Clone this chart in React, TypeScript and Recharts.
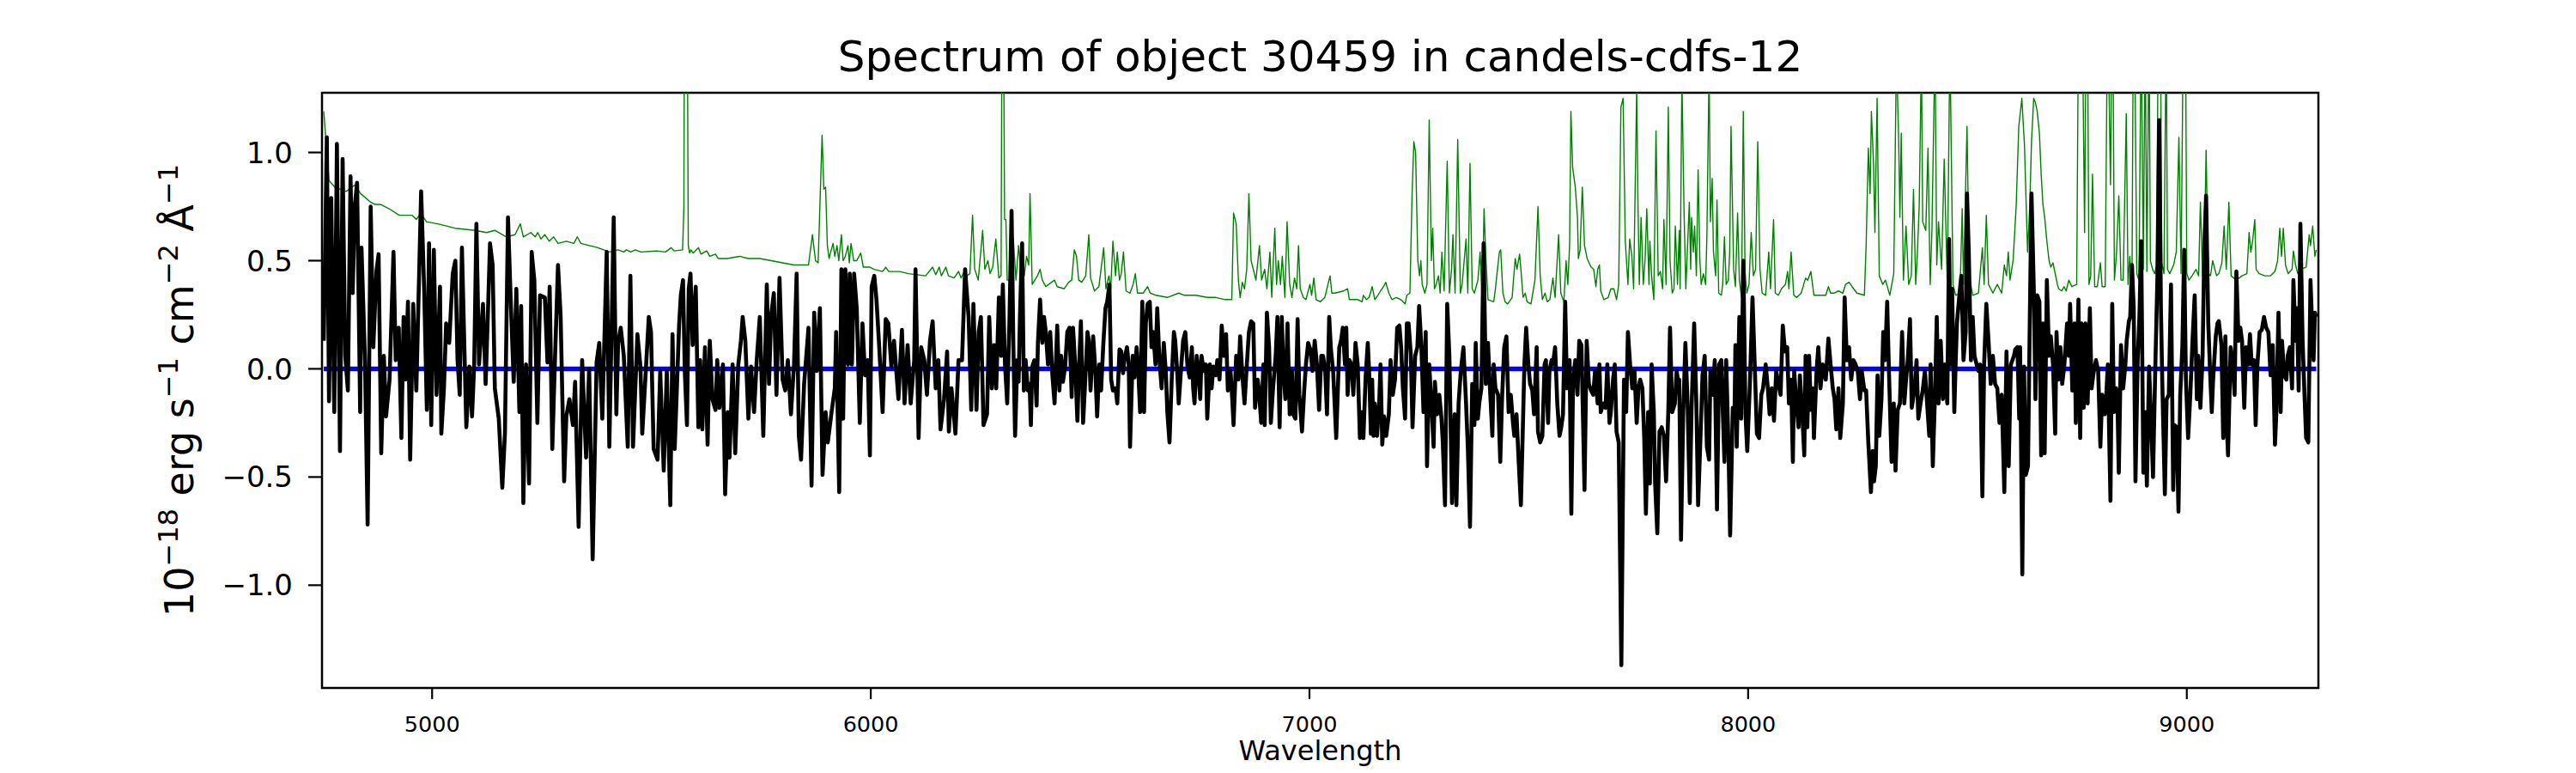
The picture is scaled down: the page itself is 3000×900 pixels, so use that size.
import React from "react";
import { LineChart, Line, XAxis, YAxis, ReferenceArea } from "recharts";

// ---- Data (wavelength in Å, flux in 1e-18 erg/s/cm2/Å) ----
const xTicks = [5000, 6000, 7000, 8000, 9000];
const yTicks = [-1.0, -0.5, 0.0, 0.5, 1.0];
const xDomain = [4749, 9300];
const yDomain = [-1.475, 1.276];

const fluxSeg1 = [
  [4753, 0.13], [4760, 1.07], [4765, -0.15], [4770, 0.79], [4777, -0.2], [4783, 1.04], [4790, -0.38], [4796, 0.97],
  [4802, 0.06], [4808, -0.1], [4814, 0.89], [4819, 0.35], [4824, 0.76], [4829, 0.86], [4836, -0.2], [4839, 0.56],
  [4847, 0.04], [4853, -0.72], [4860, 0.75], [4866, 0.1], [4873, 0.45], [4878, 0.53], [4884, -0.39], [4890, 0.06],
  [4895, -0.22], [4903, -0.05], [4912, 0.54], [4917, 0.04], [4924, 0.19], [4930, -0.32], [4935, 0.24], [4939, -0.05],
  [4945, 0.31], [4950, -0.42], [4957, 0.3], [4964, -0.1], [4975, 0.82], [4982, 0.36], [4988, -0.19], [4993, 0.58],
  [4998, -0.26], [5004, 0.55], [5010, -0.12], [5018, 0.38], [5021, -0.3], [5027, -0.09], [5032, 0.21], [5039, 0.12],
  [5047, 0.44], [5053, 0.5], [5058, 0.04], [5063, -0.12], [5068, 0.56], [5078, -0.27], [5085, 0.01], [5091, -0.22],
  [5096, 0.02], [5101, 0.67], [5107, 0.02], [5116, 0.3], [5122, -0.07], [5127, 0.24], [5132, 0.58], [5138, 0.48],
  [5143, -0.09], [5152, -0.23], [5160, -0.55], [5166, -0.3], [5173, 0.7], [5179, 0.33], [5186, -0.06], [5192, 0.37],
  [5199, -0.2], [5203, 0.29], [5208, -0.62], [5214, 0.02], [5221, -0.53], [5227, 0.54], [5233, 0.41], [5240, -0.25],
  [5246, 0.34], [5257, 0.33], [5263, 0.03], [5268, 0.38], [5274, -0.37], [5280, 0.04], [5287, 0.48], [5293, 0.24],
  [5301, -0.52], [5306, -0.22], [5313, -0.14], [5321, -0.26], [5326, -0.06], [5334, -0.73], [5342, 0.04], [5351, -0.41],
  [5358, 0.0], [5366, -0.88], [5375, 0.03], [5381, 0.12], [5388, -0.23], [5398, 0.54], [5404, -0.36], [5414, 0.7],
  [5420, -0.21], [5424, 0.12], [5430, 0.19], [5437, 0.06], [5446, -0.36], [5452, 0.43], [5458, -0.36], [5468, 0.16],
  [5475, 0.01], [5479, -0.3], [5486, -0.05], [5494, 0.24], [5499, 0.17], [5505, -0.37], [5514, -0.42],
];

const fluxSeg2 = [
  [5520, -0.01], [5528, -0.47], [5535, -0.01], [5543, -0.63], [5548, 0.16], [5553, -0.37], [5558, -0.09], [5563, 0.2],
  [5567, 0.34], [5572, 0.41], [5576, -0.01], [5581, -0.26], [5585, 0.37], [5589, 0.44], [5594, 0.11], [5597, 0.24],
  [5601, 0.38], [5607, -0.27], [5611, 0.04], [5616, -0.28], [5622, 0.1], [5628, -0.35], [5633, 0.13], [5639, -0.14],
  [5646, -0.19], [5650, 0.04], [5655, -0.18], [5663, 0.02], [5668, -0.58], [5674, -0.2], [5678, -0.41], [5685, 0.02],
  [5691, -0.39], [5698, 0.02], [5704, 0.13], [5708, 0.24], [5714, 0.13], [5721, -0.23], [5727, 0.01], [5734, -0.2],
  [5740, 0.04], [5747, 0.24], [5755, -0.31], [5763, 0.39], [5768, -0.07], [5773, 0.25], [5779, 0.35], [5785, -0.12],
  [5792, 0.42], [5799, -0.05], [5805, -0.1], [5811, 0.04], [5818, -0.21], [5825, 0.02], [5831, 0.44], [5836, -0.31],
  [5841, -0.42], [5848, -0.07], [5858, 0.19], [5865, -0.54], [5871, 0.26], [5877, -0.01], [5884, 0.28], [5890, -0.49],
  [5897, -0.2], [5902, -0.34], [5910, -0.21], [5918, -0.09], [5921, 0.17], [5928, -0.57], [5933, 0.46], [5937, -0.23],
  [5942, 0.46], [5948, 0.02], [5952, 0.44], [5957, 0.02], [5962, 0.44], [5968, 0.28], [5975, -0.25], [5981, 0.21],
  [5987, -0.03], [5993, 0.04], [5998, -0.4], [6002, 0.38], [6008, 0.43], [6013, 0.32], [6019, 0.11], [6027, -0.2],
  [6034, 0.23], [6040, 0.21], [6047, 0.01], [6053, 0.13], [6063, -0.14], [6071, 0.18], [6077, -0.16], [6084, 0.11],
  [6091, -0.16], [6099, 0.04], [6102, 0.46], [6109, -0.32], [6115, 0.1], [6122, 0.04], [6128, -0.12], [6135, 0.13],
  [6141, 0.22], [6148, -0.09], [6154, 0.04], [6159, -0.28], [6167, -0.14], [6174, 0.08], [6178, -0.29], [6184, -0.09],
  [6193, -0.3], [6200, 0.04], [6208, 0.04], [6215, 0.46], [6223, 0.24], [6229, -0.19], [6234, 0.3], [6241, -0.19],
  [6246, 0.17], [6251, 0.24], [6257, -0.26], [6265, -0.21], [6270, 0.24], [6276, -0.09], [6281, 0.11],
];

const fluxSeg3 = [
  [6286, -0.09], [6292, 0.33], [6297, 0.06], [6301, 0.39], [6306, 0.02], [6311, -0.16], [6316, 0.21], [6321, 0.73],
  [6325, 0.11], [6329, -0.31], [6334, 0.04], [6337, -0.06], [6340, 0.24], [6345, 0.58], [6349, -0.1], [6353, 0.04],
  [6358, -0.1], [6362, -0.07], [6365, -0.26], [6368, 0.01], [6373, 0.04], [6378, -0.17], [6381, 0.12], [6386, 0.32],
  [6391, 0.12], [6395, 0.24], [6399, 0.17], [6404, 0.02], [6409, 0.17], [6414, -0.03], [6419, -0.16], [6422, 0.02],
  [6425, 0.2], [6430, -0.1], [6434, 0.06], [6438, -0.06], [6443, 0.01], [6448, 0.17], [6453, 0.19], [6458, -0.13],
  [6461, 0.19], [6466, 0.02], [6471, -0.24], [6475, 0.02], [6479, 0.22], [6484, -0.25], [6488, -0.09], [6494, 0.17],
  [6497, 0.13], [6501, -0.1], [6507, 0.15], [6512, -0.01], [6516, -0.22], [6521, 0.02], [6525, -0.1], [6530, 0.11],
  [6535, 0.28], [6539, 0.31], [6544, 0.39], [6548, -0.05], [6552, -0.1], [6558, -0.09], [6562, -0.16], [6567, 0.09],
  [6571, 0.08], [6575, -0.02], [6578, 0.04], [6584, 0.1], [6588, 0.02], [6591, -0.36], [6597, 0.06], [6601, -0.04],
  [6606, 0.1], [6610, -0.02], [6614, -0.2], [6619, 0.31], [6623, -0.2], [6627, 0.21], [6631, 0.3], [6636, 0.31],
  [6640, 0.1], [6644, 0.17], [6649, 0.02], [6653, 0.28], [6658, 0.04], [6663, -0.09], [6668, 0.12], [6673, -0.03],
  [6676, -0.2], [6681, -0.34], [6686, -0.05], [6691, 0.17], [6694, 0.13], [6699, -0.03], [6702, -0.16], [6707, -0.01],
  [6712, 0.13], [6717, 0.17], [6722, 0.01], [6727, -0.04], [6732, 0.1], [6735, -0.09], [6738, -0.16], [6743, 0.06],
  [6747, -0.01], [6751, -0.14], [6754, 0.06], [6759, -0.01], [6764, 0.02], [6767, -0.23], [6773, 0.02], [6777, -0.09],
  [6781, 0.01], [6786, -0.03], [6790, 0.04], [6795, -0.05], [6800, 0.2], [6805, 0.06], [6810, 0.16], [6814, -0.1],
  [6820, -0.01], [6824, -0.14], [6827, -0.26], [6833, 0.06], [6838, -0.05], [6842, 0.15], [6847, -0.03], [6852, -0.16],
  [6857, 0.01], [6862, 0.17], [6867, 0.22], [6872, 0.21], [6876, -0.18], [6882, -0.05], [6885, -0.1], [6890, -0.25],
  [6895, 0.02], [6898, -0.26], [6903, 0.26], [6908, 0.1], [6912, -0.25], [6917, -0.09], [6923, 0.06], [6927, 0.24],
  [6932, -0.27], [6937, 0.24], [6940, 0.02], [6945, -0.14], [6950, 0.21], [6955, -0.21], [6960, -0.01], [6963, -0.21],
  [6968, -0.23], [6973, 0.23], [6977, -0.12], [6983, -0.29], [6988, -0.1], [6992, 0.02], [6997, 0.12], [7002, 0.09],
  [7007, -0.01], [7012, 0.13], [7017, 0.02], [7022, -0.19], [7027, 0.06], [7031, 0.06], [7036, -0.01], [7040, -0.21],
  [7045, 0.24], [7049, 0.09], [7054, -0.01], [7061, -0.32],
];

const fluxSeg4 = [
  [7068, 0.1], [7072, 0.13], [7076, 0.19], [7081, 0.02], [7084, 0.19], [7087, -0.12], [7091, 0.04], [7096, 0.02],
  [7100, -0.12], [7105, 0.12], [7110, 0.02], [7115, -0.32], [7120, -0.2], [7123, -0.32], [7128, -0.04], [7133, 0.12],
  [7136, -0.01], [7140, -0.3], [7143, -0.05], [7146, -0.31], [7149, -0.16], [7154, -0.31], [7159, -0.16], [7162, 0.02],
  [7166, -0.35], [7170, -0.22], [7175, -0.31], [7181, -0.21], [7185, 0.04], [7190, -0.12], [7195, -0.05], [7200, 0.19],
  [7205, 0.2], [7209, 0.1], [7213, -0.09], [7218, -0.23], [7222, 0.21], [7226, 0.21], [7231, 0.07], [7235, -0.27],
  [7241, 0.06], [7246, 0.1], [7250, 0.29], [7255, 0.11], [7260, -0.2], [7265, 0.17], [7268, -0.45], [7273, 0.02],
  [7278, -0.16], [7283, -0.36], [7286, -0.06], [7291, -0.21], [7296, -0.12], [7301, -0.23], [7304, -0.34], [7309, -0.63],
  [7314, 0.3], [7319, 0.06], [7325, -0.62], [7331, -0.21], [7335, -0.63], [7340, -0.16], [7345, -0.01], [7351, 0.1],
  [7357, -0.16], [7361, -0.36], [7366, -0.73], [7371, -0.07], [7376, -0.26], [7379, 0.12], [7384, -0.23], [7387, -0.16],
  [7392, -0.09], [7397, 0.58], [7402, -0.07], [7407, 0.12], [7411, -0.07], [7417, -0.31], [7420, 0.02], [7424, -0.09],
  [7430, -0.12], [7435, -0.43], [7439, -0.14], [7444, 0.1], [7449, 0.15], [7454, -0.2], [7459, -0.12], [7464, -0.25],
  [7467, -0.31], [7472, -0.21], [7477, -0.43], [7482, -0.63], [7486, -0.31], [7490, 0.02], [7494, 0.19], [7499, 0.02],
  [7503, -0.07], [7508, -0.1], [7512, -0.21], [7518, 0.1], [7521, -0.29], [7526, -0.34], [7531, -0.31], [7536, 0.02],
  [7539, 0.04], [7544, -0.25], [7547, -0.01], [7552, 0.04], [7555, 0.02], [7560, 0.1], [7565, -0.16], [7570, -0.31],
  [7574, -0.27], [7578, -0.21], [7583, 0.31], [7587, -0.09], [7593, 0.04], [7597, -0.67], [7601, -0.05], [7606, 0.04],
  [7611, -0.12], [7615, 0.13], [7620, 0.11], [7624, -0.27], [7627, -0.56], [7632, 0.13], [7637, -0.07], [7642, -0.1],
  [7647, -0.12], [7651, -0.01], [7657, -0.16], [7661, 0.02], [7664, -0.2], [7670, -0.16], [7675, -0.18], [7679, 0.02],
  [7684, -0.25], [7687, -0.2], [7692, -0.05], [7696, 0.02], [7700, -0.29], [7705, -0.34], [7711, -1.37], [7717, -0.05],
  [7722, -0.2], [7726, 0.17], [7731, 0.02], [7736, -0.09], [7741, -0.01], [7746, -0.25], [7750, -0.09], [7754, -0.05],
  [7759, -0.09], [7763, -0.31], [7767, -0.67], [7772, -0.2], [7776, -0.53], [7780, 0.02], [7785, -0.2], [7788, -0.53],
  [7793, -0.76], [7798, -0.29], [7803, -0.27], [7808, -0.31], [7813, -0.52], [7818, -0.2], [7822, 0.19], [7827, -0.2],
  [7833, -0.16], [7837, -0.01], [7840, -0.05],
];

const fluxSeg5 = [
  [7843, -0.05], [7847, -0.79], [7852, -0.21], [7857, 0.12], [7862, -0.16], [7867, -0.62], [7871, -0.19], [7877, 0.21],
  [7882, -0.16], [7886, -0.63], [7891, -0.34], [7896, -0.03], [7901, 0.06], [7906, -0.36], [7911, -0.42], [7914, -0.01],
  [7919, -0.12], [7924, 0.04], [7929, -0.65], [7934, 0.02], [7939, 0.04], [7942, -0.18], [7946, -0.43], [7950, 0.04],
  [7955, -0.34], [7959, -0.77], [7965, -0.18], [7969, -0.21], [7971, 0.11], [7974, -0.36], [7980, 0.24], [7984, -0.23],
  [7989, 0.5], [7994, -0.21], [7998, -0.38], [8004, -0.07], [8010, 0.33], [8015, 0.02], [8020, -0.3], [8025, -0.32],
  [8030, -0.12], [8034, -0.09], [8040, 0.02], [8045, -0.09], [8049, -0.21], [8054, -0.09], [8059, -0.24], [8064, -0.01],
  [8069, -0.07], [8074, -0.12], [8079, 0.2], [8084, 0.08], [8089, 0.1], [8093, -0.16], [8098, -0.05], [8102, -0.43],
  [8105, -0.01], [8110, -0.16], [8115, -0.27], [8118, -0.03], [8123, -0.19], [8128, -0.4], [8131, 0.06], [8135, -0.27],
  [8139, 0.06], [8143, -0.19], [8147, -0.09], [8150, -0.32], [8156, -0.01], [8160, 0.1], [8165, -0.09], [8170, 0.02],
  [8177, -0.05], [8183, 0.14], [8188, 0.02], [8193, -0.09], [8197, -0.14], [8201, -0.28], [8206, -0.09], [8210, -0.32],
  [8216, -0.16], [8220, 0.33], [8225, 0.04], [8230, 0.1], [8235, -0.05], [8240, 0.04], [8245, 0.02], [8250, -0.01],
  [8255, -0.14], [8259, -0.01], [8265, -0.1], [8269, -0.1], [8274, -0.34], [8280, -0.57], [8284, -0.38], [8287, -0.52],
  [8291, -0.45], [8295, -0.03], [8299, -0.31], [8304, -0.14], [8308, 0.17], [8312, 0.04], [8317, 0.31], [8321, -0.01],
  [8327, -0.43], [8332, -0.16], [8336, -0.47], [8341, -0.19], [8346, -0.16], [8351, 0.17], [8356, -0.16], [8360, -0.05],
  [8364, 0.04], [8369, 0.23], [8373, -0.18], [8379, -0.1], [8384, 0.04], [8388, -0.23], [8393, -0.16], [8398, -0.1],
  [8403, -0.01], [8408, -0.16], [8413, -0.31], [8416, 0.02], [8421, -0.45], [8426, -0.12], [8430, 0.24], [8434, -0.16],
  [8439, 0.13], [8444, -0.14], [8449, 0.02], [8454, -0.16], [8458, 0.6], [8462, 0.02], [8465, 0.37], [8470, -0.2],
  [8473, 0.02], [8476, 0.21], [8482, 0.35], [8486, 0.43], [8491, 0.04], [8496, 0.17], [8499, 0.81], [8503, 0.54],
  [8508, 0.04], [8512, 0.24], [8516, 0.06], [8521, 0.02], [8525, -0.01], [8529, 0.02], [8534, -0.59], [8538, 0.02],
  [8543, 0.3], [8548, 0.13], [8553, -0.07], [8558, 0.06], [8563, -0.07], [8568, -0.09], [8573, -0.25], [8578, -0.12],
  [8584, -0.57], [8589, 0.08], [8594, -0.45], [8599, 0.02], [8606, 0.06],
];

const fluxSeg6 = [
  [8609, 0.09], [8614, 0.1], [8618, -0.23], [8620, 0.1], [8625, -0.95], [8629, 0.01], [8633, -0.49], [8638, -0.45],
  [8642, 0.21], [8646, 0.81], [8651, 0.39], [8655, -0.14], [8659, 0.34], [8664, 0.31], [8668, -0.4], [8672, 0.21],
  [8676, -0.39], [8681, 0.41], [8686, 0.06], [8690, 0.15], [8695, 0.02], [8700, -0.3], [8703, 0.17], [8707, -0.05],
  [8712, 0.1], [8716, -0.07], [8721, 0.02], [8727, 0.21], [8731, 0.06], [8734, 0.3], [8739, -0.1], [8744, 0.21],
  [8747, -0.25], [8753, 0.32], [8757, -0.32], [8760, 0.21], [8765, -0.18], [8769, 0.21], [8774, -0.16], [8779, 0.28],
  [8783, -0.09], [8788, -0.01], [8793, 0.04], [8798, -0.01], [8803, -0.36], [8807, -0.12], [8813, -0.21], [8817, -0.1],
  [8820, 0.02], [8826, -0.61], [8830, 0.3], [8834, -0.2], [8839, -0.09], [8842, -0.16], [8845, -0.48], [8850, 0.11],
  [8855, -0.09], [8860, 0.02], [8863, 0.13], [8868, 0.22], [8871, 0.24], [8875, 0.48], [8879, 0.28], [8883, -0.52],
  [8888, 0.04], [8892, 0.24], [8896, 0.59], [8901, -0.48], [8905, -0.2], [8909, -0.54], [8914, 0.01], [8918, -0.2],
  [8923, -0.5], [8928, -0.01], [8933, 0.42], [8937, 1.15], [8941, 0.28], [8944, -0.05], [8950, -0.58], [8954, -0.14],
  [8959, -0.12], [8964, 0.39], [8969, -0.56], [8972, -0.26], [8977, -0.27], [8981, -0.66], [8985, -0.12], [8990, 0.11],
  [8994, 0.55], [8998, -0.05], [9003, -0.32], [9008, -0.12], [9013, 0.13], [9018, 0.34], [9023, -0.14], [9026, 0.06],
  [9031, -0.18], [9036, 0.06], [9040, 0.57], [9044, 0.8], [9049, 0.21], [9053, -0.01], [9057, -0.2], [9060, -0.05],
  [9066, 0.15], [9070, 0.21], [9073, 0.22], [9079, 0.11], [9083, -0.32], [9088, 0.15], [9092, -0.3], [9094, -0.4],
  [9100, 0.1], [9105, 0.02], [9109, -0.12], [9113, 0.45], [9118, 0.13], [9122, 0.19], [9126, 0.13], [9131, -0.18],
  [9135, 0.1], [9140, 0.02], [9144, 0.16], [9148, 0.02], [9153, 0.04], [9157, -0.26], [9161, 0.02], [9166, 0.17],
  [9171, 0.18], [9176, 0.24], [9181, 0.19], [9186, 0.17], [9191, -0.03], [9196, 0.11], [9201, -0.35], [9204, -0.21],
  [9209, 0.26], [9214, -0.2], [9217, 0.13], [9222, -0.03], [9227, -0.05], [9230, 0.06], [9235, 0.1], [9240, -0.09],
  [9243, 0.41], [9248, 0.13], [9251, 0.28], [9255, -0.1], [9259, 0.67], [9264, 0.13], [9268, -0.1], [9272, -0.32],
  [9277, -0.34], [9282, 0.41], [9285, 0.24], [9289, 0.04], [9292, 0.26], [9295, 0.24],
];

const skySeg1 = [
  [4753, 1.19], [4765, 0.87], [4778, 0.84], [4804, 0.82], [4824, 0.85], [4837, 0.81], [4860, 0.77], [4869, 0.76],
  [4882, 0.76], [4902, 0.74], [4925, 0.71], [4954, 0.71], [4964, 0.69], [4974, 0.72], [4987, 0.68], [5013, 0.67],
  [5052, 0.65], [5098, 0.64], [5124, 0.63], [5143, 0.64], [5169, 0.61], [5189, 0.62], [5201, 0.67], [5208, 0.61],
  [5225, 0.63], [5235, 0.61], [5241, 0.63], [5248, 0.6], [5257, 0.62], [5267, 0.59], [5277, 0.61], [5287, 0.58],
  [5306, 0.59], [5323, 0.58], [5331, 0.61], [5339, 0.58], [5358, 0.57], [5378, 0.56], [5404, 0.54], [5424, 0.55],
  [5437, 0.54], [5443, 0.55], [5453, 0.54], [5463, 0.55], [5476, 0.54],
];

const skySeg2 = [
  [5512, 0.545], [5532, 0.54], [5545, 0.56], [5552, 0.545], [5571, 0.55], [5574, 0.75], [5575, 1.6], [5579, 1.8],
  [5582, 1.5], [5584, 0.57], [5587, 0.535], [5590, 0.55], [5595, 0.535], [5607, 0.56], [5613, 0.53], [5626, 0.545],
  [5633, 0.52], [5646, 0.53], [5652, 0.51], [5672, 0.51], [5701, 0.52], [5721, 0.51], [5747, 0.51], [5773, 0.5],
  [5799, 0.49], [5825, 0.48], [5858, 0.48], [5867, 0.62], [5874, 0.5], [5880, 0.49], [5889, 1.08], [5893, 0.83],
  [5897, 0.84], [5901, 0.57], [5905, 0.51], [5908, 0.535], [5914, 0.58], [5918, 0.52], [5923, 0.57], [5927, 0.5],
  [5933, 0.62], [5937, 0.5], [5942, 0.52], [5948, 0.57], [5951, 0.49], [5955, 0.58], [5961, 0.5], [5968, 0.5],
  [5977, 0.535], [5983, 0.47], [5998, 0.47], [6008, 0.46], [6027, 0.45], [6034, 0.47], [6041, 0.45], [6066, 0.45],
  [6086, 0.44], [6125, 0.43], [6141, 0.47], [6148, 0.435], [6156, 0.47], [6161, 0.43], [6171, 0.47], [6177, 0.43],
  [6190, 0.42], [6200, 0.45], [6206, 0.42], [6213, 0.45], [6219, 0.43], [6226, 0.44], [6232, 0.71], [6237, 0.46],
  [6245, 0.41], [6255, 0.64], [6260, 0.46], [6267, 0.5], [6272, 0.44], [6278, 0.47],
];

const skySeg3 = [
  [6285, 0.6], [6292, 0.42], [6297, 0.43], [6299, 1.6], [6303, 1.5], [6305, 0.69], [6308, 0.69], [6311, 0.41],
  [6321, 0.41], [6325, 0.6], [6331, 0.41], [6337, 0.57], [6342, 0.45], [6350, 0.43], [6355, 0.52], [6360, 0.48],
  [6363, 0.81], [6368, 0.39], [6380, 0.43], [6386, 0.46], [6391, 0.41], [6399, 0.38], [6412, 0.4], [6419, 0.41],
  [6425, 0.38], [6441, 0.37], [6451, 0.4], [6458, 0.41], [6464, 0.55], [6469, 0.52], [6474, 0.41], [6481, 0.4],
  [6490, 0.43], [6497, 0.62], [6501, 0.42], [6510, 0.36], [6520, 0.38], [6531, 0.56], [6536, 0.37], [6543, 0.43],
  [6547, 0.37], [6552, 0.59], [6558, 0.43], [6562, 0.54], [6567, 0.41], [6571, 0.44], [6576, 0.54], [6582, 0.36],
  [6591, 0.35], [6598, 0.39], [6603, 0.44], [6608, 0.35], [6621, 0.35], [6631, 0.38], [6637, 0.35], [6650, 0.34],
  [6676, 0.33], [6702, 0.35], [6715, 0.34], [6741, 0.34], [6767, 0.33], [6787, 0.33], [6807, 0.32], [6823, 0.32],
  [6827, 0.72], [6833, 0.67], [6838, 0.41], [6842, 0.33], [6847, 0.4], [6852, 0.37], [6857, 0.46], [6862, 0.81],
  [6867, 0.5], [6872, 0.46], [6878, 0.41], [6886, 0.57], [6891, 0.41], [6898, 0.46], [6903, 0.37], [6910, 0.54],
  [6914, 0.33], [6921, 0.65], [6925, 0.39], [6929, 0.5], [6934, 0.39], [6938, 0.52], [6944, 0.33], [6949, 0.68],
  [6955, 0.39], [6960, 0.33], [6966, 0.42], [6971, 0.37], [6975, 0.57], [6979, 0.37], [6986, 0.33], [6992, 0.32],
  [7001, 0.39], [7005, 0.34], [7010, 0.42], [7015, 0.32], [7025, 0.31], [7035, 0.33], [7041, 0.38], [7047, 0.43],
  [7051, 0.35],
];

const skySeg4 = [
  [7058, 0.35], [7078, 0.36], [7087, 0.37], [7091, 0.32], [7110, 0.32], [7120, 0.31], [7123, 0.34], [7130, 0.32],
  [7136, 0.33], [7143, 0.38], [7149, 0.32], [7156, 0.34], [7162, 0.36], [7169, 0.38], [7174, 0.4], [7181, 0.35],
  [7188, 0.32], [7198, 0.33], [7208, 0.32], [7218, 0.3], [7222, 0.34], [7229, 0.35], [7234, 0.81], [7238, 1.05],
  [7242, 1.0], [7247, 0.5], [7251, 0.43], [7254, 0.5], [7257, 0.39], [7263, 0.35], [7268, 0.39], [7273, 1.15],
  [7278, 0.5], [7281, 0.65], [7285, 0.37], [7289, 0.39], [7294, 0.43], [7298, 0.35], [7302, 0.54], [7307, 0.36],
  [7314, 0.96], [7319, 0.35], [7324, 0.46], [7327, 0.62], [7332, 0.35], [7338, 1.06], [7344, 0.35], [7348, 0.39],
  [7357, 0.6], [7361, 0.35], [7366, 0.95], [7371, 0.37], [7376, 0.35], [7384, 0.41], [7389, 0.54], [7394, 0.31],
  [7398, 0.74], [7402, 0.52], [7407, 0.32], [7420, 0.31], [7424, 0.37], [7428, 0.45], [7433, 0.54], [7436, 0.55],
  [7441, 0.35], [7446, 0.31], [7452, 0.3], [7462, 0.33], [7469, 0.51], [7473, 0.46], [7479, 0.53], [7482, 0.46],
  [7487, 0.33], [7492, 0.35], [7496, 0.31], [7505, 0.3], [7514, 0.41], [7521, 0.75], [7526, 0.43], [7531, 0.32],
  [7537, 0.35], [7542, 0.31], [7548, 0.32], [7555, 0.42], [7560, 0.33], [7568, 0.62], [7573, 0.35], [7580, 0.31],
  [7585, 0.5], [7589, 0.39], [7593, 0.57], [7596, 1.19], [7600, 0.93], [7606, 0.84], [7611, 0.7], [7613, 0.51],
  [7617, 0.55], [7622, 0.84], [7627, 0.57], [7633, 0.51], [7642, 0.47], [7648, 0.46], [7653, 0.38], [7657, 0.46],
  [7661, 0.48], [7664, 0.36], [7671, 0.32], [7681, 0.33], [7687, 0.37], [7694, 0.37], [7700, 0.32], [7705, 0.39],
  [7710, 1.21], [7715, 1.25], [7720, 0.59], [7723, 0.49], [7726, 0.39], [7730, 0.6], [7735, 0.52], [7739, 0.37],
  [7746, 1.3], [7749, 0.75], [7752, 0.39], [7756, 0.7], [7761, 0.39], [7765, 0.5], [7769, 0.74], [7774, 0.39],
  [7776, 0.59], [7780, 0.43], [7785, 0.32], [7790, 1.1], [7795, 0.43], [7800, 0.45], [7805, 0.37], [7808, 0.69],
  [7813, 0.39], [7818, 1.21], [7822, 0.5], [7827, 0.35],
];

const skySeg5 = [
  [7831, 0.37], [7834, 0.66], [7839, 0.39], [7843, 0.64], [7845, 0.37], [7849, 1.35], [7854, 0.72], [7858, 0.37],
  [7862, 0.57], [7866, 0.77], [7869, 0.46], [7871, 0.7], [7875, 0.54], [7878, 0.66], [7882, 0.43], [7886, 0.92],
  [7890, 0.5], [7893, 0.39], [7898, 0.44], [7903, 0.39], [7906, 0.61], [7911, 1.4], [7914, 0.68], [7918, 0.88],
  [7921, 0.54], [7926, 0.43], [7929, 0.78], [7933, 0.35], [7939, 0.34], [7942, 0.39], [7946, 0.61], [7950, 0.39],
  [7955, 0.41], [7958, 0.54], [7961, 1.12], [7967, 0.46], [7971, 0.38], [7976, 0.72], [7980, 0.41], [7985, 0.33],
  [7989, 1.19], [7993, 0.45], [7997, 0.35], [8002, 0.39], [8007, 0.63], [8012, 0.43], [8017, 0.46], [8022, 1.05],
  [8027, 0.46], [8032, 0.35], [8040, 0.34], [8047, 0.54], [8051, 0.37], [8058, 0.69], [8062, 0.35], [8069, 0.34],
  [8076, 0.37], [8085, 0.39], [8090, 0.45], [8093, 0.37], [8098, 0.54], [8104, 0.34], [8111, 0.33], [8121, 0.35],
  [8131, 0.42], [8136, 0.41], [8143, 0.45], [8150, 0.34], [8164, 0.34], [8177, 0.34], [8183, 0.38], [8188, 0.35],
  [8196, 0.35], [8206, 0.36], [8216, 0.35], [8222, 0.39], [8230, 0.4], [8237, 0.38], [8248, 0.35], [8265, 0.34],
  [8269, 0.57], [8274, 1.02], [8278, 0.81], [8281, 1.19], [8286, 0.94], [8289, 0.63], [8294, 1.25], [8299, 0.43],
  [8307, 0.39], [8313, 0.41], [8323, 0.34], [8332, 0.44], [8338, 1.45], [8343, 1.08], [8346, 0.7], [8349, 1.09],
  [8354, 0.41], [8360, 0.66], [8366, 0.39], [8372, 0.43], [8377, 0.83], [8382, 0.39], [8386, 0.54], [8390, 0.75],
  [8395, 1.45], [8398, 0.68], [8405, 0.64], [8410, 1.02], [8415, 0.39], [8419, 0.64], [8426, 1.5], [8430, 0.48],
  [8434, 0.68], [8441, 0.46], [8447, 0.97], [8454, 0.39], [8460, 1.5], [8467, 0.39], [8473, 0.34], [8483, 0.35],
  [8488, 0.74], [8491, 0.39], [8495, 0.77], [8499, 1.12], [8504, 0.43], [8512, 0.34], [8525, 0.35], [8534, 0.56],
  [8538, 0.39], [8543, 0.71], [8548, 0.39], [8558, 0.35], [8568, 0.39], [8578, 0.35], [8584, 0.48], [8589, 0.43],
  [8593, 0.54], [8597, 0.41],
];

const skySeg6 = [
  [8604, 0.5], [8611, 0.75], [8617, 1.12], [8624, 1.25], [8630, 1.03], [8637, 0.54], [8642, 0.75], [8646, 1.05],
  [8651, 1.25], [8655, 1.23], [8659, 1.19], [8664, 1.09], [8668, 0.9], [8672, 0.76], [8676, 0.7], [8681, 0.59],
  [8686, 0.5], [8690, 0.47], [8695, 0.49], [8700, 0.44], [8705, 0.39], [8708, 0.37], [8715, 0.36], [8720, 0.38],
  [8725, 0.36], [8731, 0.41], [8738, 0.38], [8749, 0.39], [8753, 1.6], [8757, 1.4], [8762, 1.6], [8767, 0.63],
  [8770, 1.5], [8774, 1.5], [8777, 0.39], [8781, 0.43], [8785, 0.9], [8790, 0.38], [8796, 0.38], [8803, 0.49],
  [8807, 0.38], [8814, 0.38], [8819, 1.6], [8822, 1.4], [8826, 0.85], [8829, 1.5], [8832, 1.4], [8835, 0.41],
  [8840, 0.54], [8845, 0.8], [8850, 0.41], [8855, 0.41], [8862, 1.18], [8866, 0.39], [8870, 0.52], [8875, 0.39],
  [8878, 1.6], [8881, 1.6], [8886, 0.44], [8891, 0.41], [8896, 1.6], [8901, 0.46], [8905, 1.6], [8909, 0.45],
  [8914, 1.6], [8917, 0.5], [8922, 0.46], [8927, 0.44], [8931, 0.48], [8935, 1.6], [8940, 1.6], [8943, 0.49],
  [8948, 0.44], [8953, 1.6], [8956, 0.46], [8961, 0.44], [8970, 0.48], [8976, 0.54], [8982, 1.07], [8987, 0.44],
  [8992, 1.6], [8997, 1.6], [9000, 0.44], [9005, 0.41], [9012, 0.43], [9021, 0.46], [9027, 0.43], [9031, 0.77],
  [9036, 0.43], [9040, 0.54], [9044, 1.01], [9049, 0.44], [9054, 0.43], [9059, 0.5], [9064, 0.46], [9068, 0.43],
  [9073, 0.44], [9080, 0.49], [9085, 0.66], [9090, 0.46], [9096, 0.77], [9101, 0.43], [9113, 0.41], [9126, 0.43],
  [9137, 0.44], [9142, 0.63], [9146, 0.54], [9150, 0.59], [9155, 0.69], [9158, 0.46], [9165, 0.44], [9178, 0.43],
  [9191, 0.43], [9201, 0.45], [9207, 0.5], [9212, 0.65], [9216, 0.52], [9220, 0.65], [9225, 0.48], [9231, 0.44],
  [9240, 0.46], [9243, 0.545], [9248, 0.48], [9253, 0.44], [9259, 0.46], [9272, 0.47], [9279, 0.62], [9282, 0.57],
  [9287, 0.66], [9292, 0.52], [9295, 0.55],
];

const zeroLine = [[4753, 0], [9295, 0]];

const toRows = (pairs: number[][]) => pairs.map(([w, v]) => ({ w, v }));
const fluxData = toRows([...fluxSeg1, ...fluxSeg2, ...fluxSeg3, ...fluxSeg4, ...fluxSeg5, ...fluxSeg6]);
const skyData = toRows([...skySeg1, ...skySeg2, ...skySeg3, ...skySeg4, ...skySeg5, ...skySeg6]);
const zeroData = toRows(zeroLine);

const FONT = "DejaVu Sans";
const fmtY = (v: number) => v.toFixed(1).replace("-", "\u2212");

export default function App() {
  return (
    <div style={{ position: "absolute", left: 0, top: 0, width: 3000, height: 900, background: "#fff" }}>
      <LineChart width={3000} height={900} margin={{ top: 108, right: 300, bottom: 0, left: 0 }}>
        <XAxis
          dataKey="w"
          type="number"
          domain={xDomain}
          allowDataOverflow
          ticks={xTicks}
          axisLine={false}
          tickSize={13}
          tickMargin={20}
          height={99}
          tickLine={{ stroke: "#000", strokeWidth: 2.2 }}
          tick={{ fill: "#000", fontSize: 25.5, fontFamily: FONT }}
        />
        <YAxis
          type="number"
          domain={yDomain}
          allowDataOverflow
          ticks={yTicks}
          width={375}
          axisLine={false}
          tickSize={16}
          tickMargin={18}
          tickFormatter={fmtY}
          tickLine={{ stroke: "#000", strokeWidth: 2.2 }}
          tick={{ fill: "#000", fontSize: 34, fontFamily: FONT }}
        />
        <Line data={skyData} dataKey="v" stroke="#008000" strokeWidth={1.4} dot={false} activeDot={false}
          isAnimationActive={false} strokeLinejoin="round" />
        <Line data={zeroData} dataKey="v" stroke="#0000ff" strokeWidth={5.5} dot={false} activeDot={false}
          isAnimationActive={false} />
        <Line data={fluxData} dataKey="v" stroke="#000" strokeWidth={4.6} dot={false} activeDot={false}
          isAnimationActive={false} strokeLinejoin="round" />
        <ReferenceArea x1={xDomain[0]} x2={xDomain[1]} y1={yDomain[0]} y2={yDomain[1]}
          fill="none" fillOpacity={0} stroke="#000" strokeWidth={2.5} />
      </LineChart>
      <svg width={3000} height={900} style={{ position: "absolute", left: 0, top: 0, pointerEvents: "none" }}>
        <text x={1537.5} y={83} textAnchor="middle" fontFamily={FONT} fontSize={50} fill="#000">
          Spectrum of object 30459 in candels-cdfs-12
        </text>
        <text x={1537.5} y={885} textAnchor="middle" fontFamily={FONT} fontSize={32} fill="#000">
          Wavelength
        </text>
        <text x={225} y={454.5} transform="rotate(-90 225 454.5)" textAnchor="middle" fontFamily={FONT}
          fontSize={46} fill="#000">
          <tspan>10</tspan>
          <tspan fontSize={32} dy={-18}>{"\u221218"}</tspan>
          <tspan fontSize={46} dy={18}>{" erg s"}</tspan>
          <tspan fontSize={32} dy={-18}>{"\u22121"}</tspan>
          <tspan fontSize={46} dy={18}>{" cm"}</tspan>
          <tspan fontSize={32} dy={-18}>{"\u22122"}</tspan>
          <tspan fontSize={46} dy={18}>{" \u00C5"}</tspan>
          <tspan fontSize={32} dy={-18}>{"\u22121"}</tspan>
        </text>
      </svg>
    </div>
  );
}
